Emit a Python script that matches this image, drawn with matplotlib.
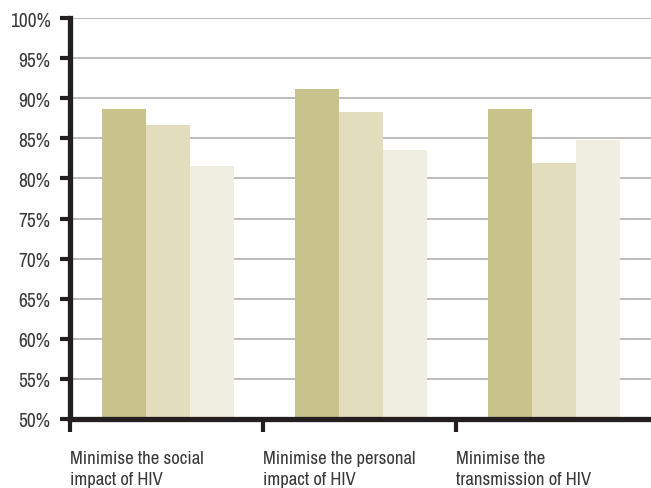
import numpy as np
import matplotlib.pyplot as plt

# Share of respondents per objective, three series per group
categories = ['Minimise the social\nimpact of HIV',
              'Minimise the personal\nimpact of HIV',
              'Minimise the\ntransmission of HIV']
series_1 = [88.7, 91.2, 88.7]
series_2 = [86.7, 88.3, 81.9]
series_3 = [81.5, 83.6, 84.8]
yticks = [50, 55, 60, 65, 70, 75, 80, 85, 90, 95, 100]

colors = ['#C8C38A', '#E1DDBD', '#F0EEE0']
axis_color = '#231F20'
text_color = '#3A3A3A'

plt.rcParams['font.family'] = ['Archivo Narrow', 'DejaVu Sans']
plt.rcParams['font.stretch'] = 'condensed'

fig = plt.figure(figsize=(6.51, 4.89), dpi=100)
ax = fig.add_axes([70 / 651, 69 / 489, 581 / 651, 401 / 489])

x = np.arange(len(categories)) + 0.508
w = 0.228
for i, (vals, c) in enumerate(zip([series_1, series_2, series_3], colors)):
    ax.bar(x + (i - 1) * w, np.array(vals) - 50, bottom=50, width=w,
           color=c, linewidth=0, zorder=2)

ax.set_ylim(50, 100)
ax.set_xlim(0, 581 / 193)
ax.set_yticks(yticks)
ax.set_yticklabels([f'{t}%' for t in yticks], fontsize=14, color=text_color)
ax.yaxis.grid(True, color='#ABABAB', linewidth=1.1, zorder=0)
ax.set_axisbelow(True)

ax.set_xticks([0, 1, 2])
ax.set_xticklabels([])
ax.tick_params(axis='y', length=7, width=3, color=axis_color, pad=7)
ax.tick_params(axis='x', length=9, width=3, color=axis_color)

for s in ['top', 'right']:
    ax.spines[s].set_visible(False)
for s in ['left', 'bottom']:
    ax.spines[s].set_color(axis_color)
    ax.spines[s].set_linewidth(3.8)
    ax.spines[s].set_zorder(3)

# Category labels sit left-aligned under each group's tick
for i, label in enumerate(categories):
    ax.text(i + 0.002, -0.078, label, transform=ax.get_xaxis_transform(),
            ha='left', va='top', fontsize=13.5, color=text_color,
            linespacing=1.4)

fig.savefig('out.png', dpi=100)
